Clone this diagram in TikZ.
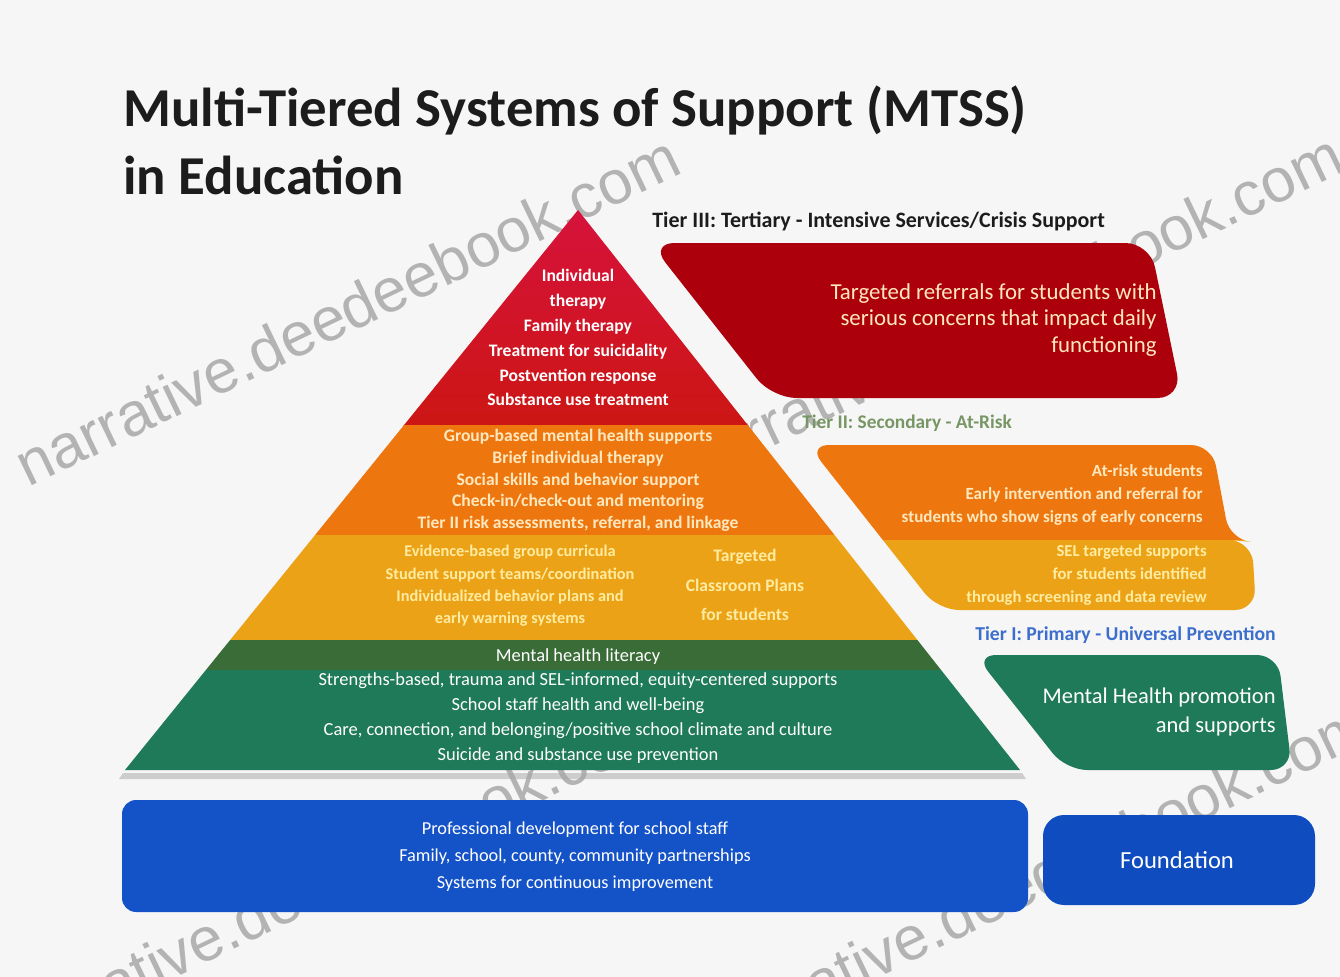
\documentclass[tikz,border=0pt]{standalone}
\usepackage{fontspec}
\setmainfont{Carlito}
\newfontfamily\wmfont{Liberation Sans}
\definecolor{bgc}{RGB}{246,246,246}
\definecolor{redA}{RGB}{214,18,60}
\definecolor{redB}{RGB}{204,22,20}
\definecolor{orgA}{RGB}{238,118,14}
\definecolor{yelA}{RGB}{236,162,22}
\definecolor{grnA}{RGB}{58,108,56}
\definecolor{grnB}{RGB}{30,122,88}
\definecolor{dred}{RGB}{172,0,12}
\definecolor{bluA}{RGB}{20,82,200}
\definecolor{bluB}{RGB}{14,76,192}
\definecolor{titc}{RGB}{28,28,28}
\definecolor{cream}{RGB}{255,232,190}
\definecolor{pyel}{RGB}{255,236,160}
\definecolor{t2c}{RGB}{120,150,100}
\definecolor{t1c}{RGB}{60,110,205}
\definecolor{wmc}{RGB}{125,125,125}
\begin{document}
\begin{tikzpicture}[x=0.02cm,y=-0.02cm,
  wm/.style={text=wmc, opacity=0.55, font=\wmfont\fontsize{35}{35}\selectfont, rotate=25.7, inner sep=0},
  tiertxt/.style={text=white, align=center, inner sep=0, font=\bfseries\fontsize{10}{14.2}\selectfont},
  boxtxt/.style={text=white, align=right, inner sep=0, anchor=east},
  tierlab/.style={inner sep=0, anchor=west}]
\fill[bgc] (0,0) rectangle (1340,977);
\useasboundingbox (0,0) rectangle (1340,977);
\clip (0,0) rectangle (1340,977);

% title
\node[anchor=west, inner sep=0, text=titc, font=\bfseries\fontsize{31.2}{36}\selectfont] (title1) at (123,110) {Multi-Tiered Systems of Support (MTSS)};
\node[anchor=west, inner sep=0, text=titc, font=\bfseries\fontsize{31.2}{36}\selectfont] (title2) at (123,175) {in Education};

% watermarks (under shapes)
\node[wm] (wm1) at (347,310) {narrative.deedeebook.com};
\node[wm] (wm2) at (1010,308) {narrative.deedeebook.com};
\node[wm] (wm3) at (332,878) {narrative.deedeebook.com};
\node[wm] (wm4) at (1037,877) {narrative.deedeebook.com};

% pyramid shadow
\fill[black!35, opacity=0.5] (123,773) -- (1022,773) -- (1026,779) -- (119,779) -- cycle;
% pyramid
\begin{scope}
\clip (578,210) -- (1020,770) -- (125,770) -- cycle;
\shade[top color=redA, bottom color=redB] (100,205) rectangle (1050,425);
\fill[orgA] (100,425) rectangle (1050,535);
\fill[yelA] (100,535) rectangle (1050,640);
\fill[grnA] (100,640) rectangle (1050,670);
\fill[grnB] (100,670) rectangle (1050,772);
\end{scope}

% right boxes
\fill[dred, rounded corners=14] (650,243) -- (1150,243) -- (1182,398) -- (772,398) -- cycle;
\begin{scope}
\clip[rounded corners=12] (808,445) -- (1212,445) -- (1230,540) -- (1252,542) -- (1256,610) -- (938,610) -- cycle;
\fill[orgA] (800,440) rectangle (1260,540);
\fill[yelA] (800,540) rectangle (1260,615);
\end{scope}
\fill[grnB, rounded corners=12] (975,655) -- (1278,655) -- (1292,770) -- (1066,770) -- cycle;

% foundation boxes
\fill[bluA, rounded corners=8] (122,800) rectangle (1028,912);
\fill[bluB, rounded corners=12] (1043,815) rectangle (1315,905);

% tier labels
\node[tierlab, text=titc, font=\bfseries\fontsize{12.5}{14}\selectfont] (t3lab) at (652,222) {Tier III: Tertiary - Intensive Services/Crisis Support};
\node[tierlab, text=t2c, font=\bfseries\fontsize{11}{13}\selectfont] (t2lab) at (802,423) {Tier II: Secondary - At-Risk};
\node[tierlab, text=t1c, font=\bfseries\fontsize{11.2}{13}\selectfont] (t1lab) at (975,635) {Tier I: Primary - Universal Prevention};

% pyramid texts
\node[tiertxt] (p3) at (578,337.5) {Individual\\therapy\\Family therapy\\Treatment for suicidality\\Postvention response\\Substance use treatment};
\node[tiertxt, text=cream, font=\bfseries\fontsize{10}{12.3}\selectfont] (p2a) at (578,480.5) {Group-based mental health supports\\Brief individual therapy\\Social skills and behavior support\\Check-in/check-out and mentoring\\Tier II risk assessments, referral, and linkage};
\node[tiertxt, text=pyel, font=\bfseries\fontsize{9.3}{12.7}\selectfont] (p2b) at (510,586) {Evidence-based group curricula\\Student support teams/coordination\\Individualized behavior plans and\\early warning systems};
\node[tiertxt, text=pyel, font=\bfseries\fontsize{10}{17}\selectfont] (p2c) at (745,585) {Targeted\\Classroom Plans\\for students};
\node[tiertxt, font=\fontsize{10.5}{14.2}\selectfont] (p1) at (578,706) {Mental health literacy\\Strengths-based, trauma and SEL-informed, equity-centered supports\\School staff health and well-being\\Care, connection, and belonging/positive school climate and culture\\Suicide and substance use prevention};
\node[tiertxt, font=\fontsize{10.4}{15.3}\selectfont] (pf) at (575,857) {Professional development for school staff\\Family, school, county, community partnerships\\Systems for continuous improvement};

% box texts
\node[boxtxt, text=cream, font=\fontsize{13}{15.3}\selectfont] (b3) at (1157,320) {Targeted referrals for students with\\serious concerns that impact daily\\functioning};
\node[boxtxt, text=cream, font=\bfseries\fontsize{9.7}{13.3}\selectfont] (b2a) at (1203,495) {At-risk students\\Early intervention and referral for\\students who show signs of early concerns};
\node[boxtxt, text=pyel, font=\bfseries\fontsize{9.5}{13}\selectfont] (b2b) at (1207,575) {SEL targeted supports\\for students identified\\through screening and data review};
\node[boxtxt, font=\fontsize{12.8}{16}\selectfont] (b1) at (1276,712) {Mental Health promotion\\and supports};
\node[text=white, inner sep=0, font=\fontsize{14}{16}\selectfont] (bf) at (1177,860) {Foundation};
\end{tikzpicture}
\end{document}
